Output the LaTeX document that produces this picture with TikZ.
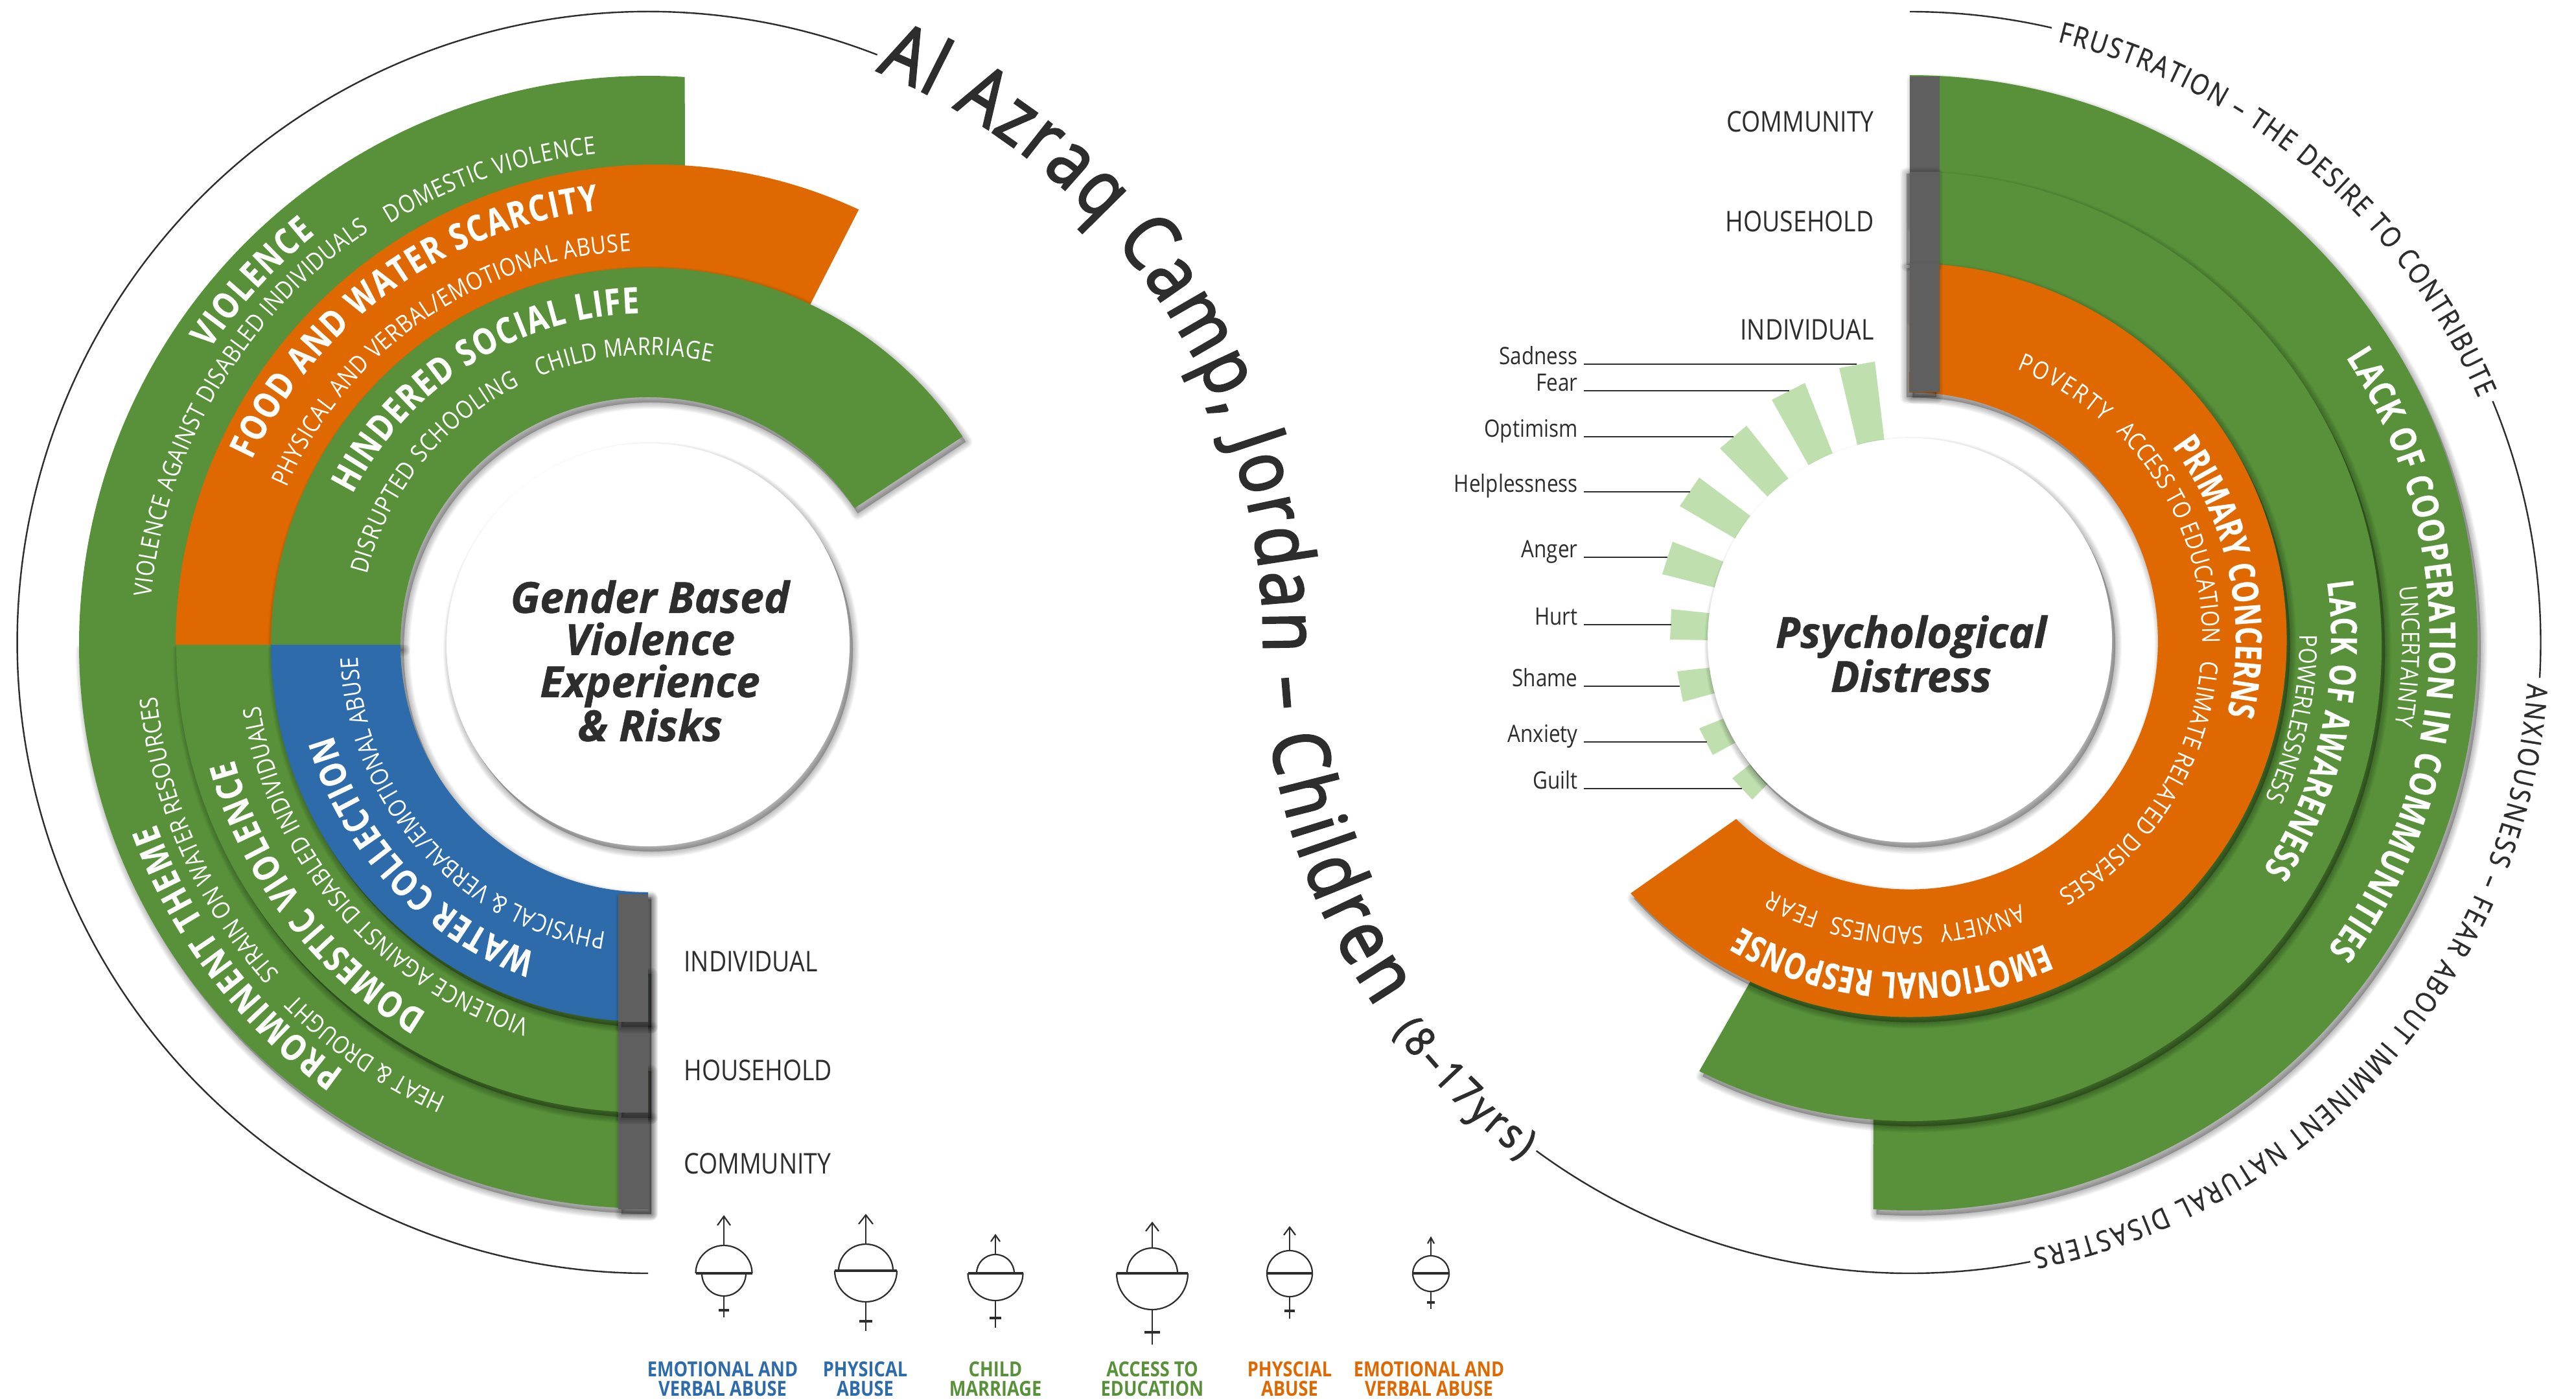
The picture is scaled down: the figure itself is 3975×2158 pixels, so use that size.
\documentclass[tikz,border=0pt]{standalone}
\usepackage{fontspec}
\usetikzlibrary{decorations.text}
\setmainfont[FakeStretch=0.85]{Open Sans}
\newfontfamily\narrowbold[FakeStretch=0.76,FakeBold=0.4]{Open Sans}
\newfontfamily\midbold[FakeStretch=0.82,FakeBold=0.4]{Open Sans}
\newfontfamily\hubfont[FakeBold=0.8]{Open Sans}
\newfontfamily\titlefont[FakeStretch=0.85,FakeBold=2.4]{Open Sans}
\newfontfamily\outerfont[FakeStretch=0.85,FakeBold=0.8]{Open Sans}
\definecolor{rgreen}{HTML}{58913A}
\definecolor{rorange}{HTML}{DF6900}
\definecolor{rblue}{HTML}{2E6BAB}
\definecolor{rgray}{HTML}{5F5F5F}
\definecolor{rlight}{HTML}{BFE0AE}
\definecolor{rink}{HTML}{2D2D2D}
\newcommand\fonts[2]{\fontsize{#1}{#2}\selectfont}
\def\fThin{\fonts{19}{22}\color{white}}
\def\fBold{\midbold\fonts{28}{32}\bfseries\color{white}}
\def\fBoldN{\narrowbold\fonts{28}{32}\bfseries\color{white}}
\def\fOuter{\outerfont\fonts{22}{26}\color{rink}}
\def\tmain{\titlefont\fonts{60}{70}\color{rink}}
\def\tsub{\titlefont\fonts{32}{36}\color{rink}}
\tikzset{
  shadowstroke/.style={fill=black,draw=black,fill opacity=.04,draw opacity=.04,line join=round},
  thinline/.style={draw=rink,line width=1.2pt},
  labeltext/.style={font=\fonts{22}{26},text=rink,inner sep=0pt},
  emotext/.style={font=\fonts{18.5}{22},text=rink,inner sep=0pt},
  centretitle/.style={font=\hubfont\fonts{33}{32.5}\bfseries\itshape,text=rink,align=center,inner sep=0pt},
  legendtext/.style={font=\fonts{16}{15}\bfseries,align=center,inner sep=0pt},
  glyph/.style={draw=rink,line width=1.1pt},
  glyphbar/.style={draw=rink,line width=2pt},
}
% annular sector; angles are ordinary (anticlockwise from east) angles
\newcommand\secpath[8]{({#1+#3*cos(-(#7))},{#2+#4*sin(-(#7))}) arc[start angle={-(#7)},end angle={-(#8)},x radius=#3,y radius=#4] -- ({#1+#5*cos(-(#8))},{#2+#6*sin(-(#8))}) arc[start angle={-(#8)},end angle={-(#7)},x radius=#5,y radius=#6] -- cycle}
\newcommand\softshadow[2][5,8]{\foreach \w in {1,2.5,4,5.5,7,8.5,10}{\path[shadowstroke,line width=\w pt,shift={(#1)}] #2;}}
\newcommand\band[9]{\softshadow{\secpath{#1}{#2}{#3}{#4}{#5}{#6}{#7}{#8}}\fill[#9] \secpath{#1}{#2}{#3}{#4}{#5}{#6}{#7}{#8};}
\newcommand\arctxt[7]{\path[decorate,decoration={text along path,text align={fit to path},text={|#6|#7}}] ({#1+#3*cos(-(#4))},{#2+#3*sin(-(#4))}) arc[start angle={-(#4)},end angle={-(#5)},radius=#3];}
\newcommand\circarc[5]{\draw[thinline] ({#1+#3*cos(-(#4))},{#2+#3*sin(-(#4))}) arc[start angle={-(#4)},end angle={-(#5)},radius=#3];}
\begin{document}
\begin{tikzpicture}[x=.5pt,y=-.5pt]
\useasboundingbox (0,0) rectangle (3975,2158);
\fill[white] (0,0) rectangle (3975,2158);

% ---------- outer thin circles
\circarc{1000}{991.5}{973.5}{68.7}{270}
\circarc{2947}{991.5}{973.5}{90}{77}
\circarc{2947}{991.5}{973.5}{22.5}{-3.2}
\circarc{2947}{991.5}{973.5}{-79}{-126.3}

% ---------- LEFT upper rings
\def\violencepath{(122,995) arc[start angle=180,end angle=273.7,radius=878] -- (1057,300) -- ({1000+650*cos(85)},{995-650*sin(85)}) arc[start angle=275,end angle=180,radius=650] -- cycle}
\fill[rgreen] \violencepath;
\def\orangepath{(271,995) arc[start angle=180,end angle=295,radius=741] -- (1240,490) -- ({1000+500*cos(65)},{995-500*sin(65)}) arc[start angle=295,end angle=180,radius=500] -- cycle}
\fill[rorange] \orangepath;
\band{1000}{995}{582}{582}{382}{382}{180}{33.5}{rgreen}

% ---------- LEFT lower rings (their shadows must not spill above the seam)
\begin{scope}
\clip (100,995) rectangle (1100,2000);
\band{1000}{995}{878}{870}{650}{650}{180}{270}{rgreen}
\band{1000}{995}{728}{722}{500}{500}{180}{270}{rgreen}
\band{1000}{995}{582}{582}{382}{382}{180}{270}{rblue}
\end{scope}
\def\barC{(954,1717) rectangle (1000,1866)}
\def\barB{(954,1577) rectangle (1000,1717)}
\def\barA{(954,1380) rectangle (1000,1577)}
\softshadow{\barC}\fill[rgray] \barC;
\softshadow{\barB}\fill[rgray] \barB;
\softshadow{\barA}\fill[rgray] \barA;

% ---------- RIGHT rings
\def\rOne{(2947,116) arc[start angle=-90,end angle=93.7,radius=876] -- (2891,1640) -- ({2947+650*cos(95)},{992+650*sin(95)}) arc[start angle=95,end angle=-90,radius=650] -- cycle}
\softshadow{\rOne}
\fill[rgreen] \rOne;
\def\rTwo{(2947,265) arc[start angle=-90,end angle=116.5,x radius=728,y radius=732.5] -- (2715,1490) -- ({2947+500*cos(115)},{988+500*sin(115)}) arc[start angle=115,end angle=-90,radius=500] -- cycle}
\softshadow{\rTwo}
\fill[rgreen] \rTwo;
\def\rThree{(2947,406.5) arc[start angle=-90,end angle=137.8,radius=581.5] -- (2679,1264) arc[start angle=134.2,end angle=-90,radius=383.5] -- cycle}
\softshadow{\rThree}
\fill[rorange] \rThree;

% ---------- emotion bars
\fill[rlight] (2838,568) -- (2893,558) -- (2909,690) -- (2868,695) -- cycle;
\fill[rlight] (2734,617) -- (2785,591) -- (2830,705) -- (2793,722) -- cycle;
\fill[rlight] (2654,692) -- (2695,657) -- (2765,745) -- (2733,772) -- cycle;
\fill[rlight] (2592,781) -- (2622,737) -- (2706,800) -- (2684,835) -- cycle;
\fill[rlight] (2565,886) -- (2581,836) -- (2665,869) -- (2651,908) -- cycle;
\fill[rlight] (2577,987) -- (2579,940) -- (2645,947) -- (2645,988) -- cycle;
\fill[rlight] (2597,1083) -- (2588,1036) -- (2650,1029) -- (2656,1067) -- cycle;
\fill[rlight] (2643,1165) -- (2622,1124) -- (2669,1105) -- (2687,1141) -- cycle;
\fill[rlight] (2704,1234) -- (2673,1201) -- (2710,1172) -- (2736,1201) -- cycle;

% right grey bars
\fill[rgray] (2947,118) rectangle (2993,265);
\def\barE{(2947,265) rectangle (2993,406)}
\def\barD{(2947,406) rectangle (2993,605)}
\softshadow[-5,3]{\barE}\fill[rgray] \barE;
\softshadow[-5,8]{\barD}\fill[rgray] \barD;

% ---------- white hubs
\def\hubL{(1000,995) circle[radius=311]}
\def\hubR{(2947,988) circle[radius=312]}
\softshadow{\hubL}\fill[white] \hubL;
\softshadow{\hubR}\fill[white] \hubR;
\node[centretitle] (hubtextL) at (1003,1020) {Gender Based\\Violence\\Experience\\\& Risks};
\node[centretitle] (hubtextR) at (2949,1009) {Psychological\\Distress};

% ---------- LEFT ring texts, top
\arctxt{1000}{995}{762}{121.5}{96}{\fThin}{DOMESTIC VIOLENCE}
\arctxt{1000}{995}{770}{174.5}{124}{\fThin}{VIOLENCE AGAINST DISABLED INDIVIDUALS}
\arctxt{1000}{995}{816}{146}{129}{\fBold}{VIOLENCE}
\arctxt{1000}{995}{675}{155}{96.5}{\fBold}{FOOD AND WATER SCARCITY}
\arctxt{1000}{995}{608}{156.5}{92.5}{\fThin}{PHYSICAL AND VERBAL/EMOTIONAL ABUSE}
\arctxt{1000}{995}{512}{153}{91.5}{\fBold}{HINDERED SOCIAL LIFE}
\arctxt{1000}{995}{447}{166}{116.3}{\fThin}{DISRUPTED  SCHOOLING}
\arctxt{1000}{995}{447}{112.2}{77.4}{\fThin}{CHILD MARRIAGE}
% LEFT ring texts, bottom
\arctxt{1000}{995}{448}{261.7}{182.5}{\fThin}{PHYSICAL {\&} VERBAL/EMOTIONAL ABUSE}
\arctxt{1000}{995}{506}{250}{196}{\fBold}{WATER COLLECTION}
\arctxt{1000}{995}{606}{252.5}{189}{\fThin}{VIOLENCE AGAINST DISABLED INDIVIDUALS}
\arctxt{1000}{995}{663}{239}{195.5}{\fBold}{DOMESTIC VIOLENCE}
\arctxt{1000}{995}{762}{221.8}{186}{\fThin}{STRAIN ON WATER RESOURCES}
\arctxt{1000}{995}{765}{246}{224.8}{\fThin}{HEAT {\&} DROUGHT}
\arctxt{1000}{995}{808}{234.5}{200}{\fBold}{PROMINENT THEME}

% ---------- RIGHT ring texts
\arctxt{2947}{988}{450}{68.5}{48.5}{\fThin}{POVERTY}
\arctxt{2947}{988}{452}{45.3}{-0.6}{\fThin}{ACCESS TO EDUCATION}
\arctxt{2947}{988}{450}{-4}{-59.5}{\fThin}{CLIMATE RELATED DISEASES}
\arctxt{2947}{988}{503}{36.5}{-12}{\fBoldN}{PRIMARY CONCERNS}
\arctxt{2947}{988}{513}{294}{240}{\fBoldN}{EMOTIONAL RESPONSE}
\arctxt{2947}{988}{442}{292.8}{275.9}{\fThin}{ANXIETY}
\arctxt{2947}{988}{442}{272.6}{254.4}{\fThin}{SADNESS}
\arctxt{2947}{988}{442}{251.8}{241.2}{\fThin}{FEAR}
\arctxt{2947}{988}{601}{0.8}{-23.9}{\fThin}{POWERLESSNESS}
\arctxt{2947}{988}{650}{8}{-33}{\fBoldN}{LACK OF AWARENESS}
\arctxt{2947}{988}{760}{6.2}{-9.8}{\fThin}{UNCERTAINTY}
\arctxt{2947}{988}{802}{33}{-36.5}{\fBold}{LACK OF COOPERATION IN COMMUNITIES}
\arctxt{2947}{991.5}{955}{76.2}{23.3}{\fOuter}{FRUSTRATION – THE DESIRE TO CONTRIBUTE}
\arctxt{2947}{991.5}{955}{-3.8}{-78.5}{\fOuter}{ANXIOUSNESS – FEAR ABOUT IMMINENT NATURAL DISASTERS}

% ---------- title on the S curve
\path[decorate,decoration={text along path,raise=-12pt,text align={fit to path},text={|\tmain|Al Azraq Camp, Jordan – Children ||{}|\tsub|(8–17yrs)}}]
  ({1000+973.5*cos(68.2)},{991.5-973.5*sin(68.2)}) arc[start angle=-68.2,end angle=0,radius=973.5] arc[start angle=180,end angle=126.9,radius=973.5];

% ---------- level labels
\node[labeltext,anchor=west] (lblInd) at (1055,1484) {INDIVIDUAL};
\node[labeltext,anchor=west] (lblHou) at (1055,1652) {HOUSEHOLD};
\node[labeltext,anchor=west] (lblCom) at (1055,1796) {COMMUNITY};
\node[labeltext,anchor=east] (lblComR) at (2892,188) {COMMUNITY};
\node[labeltext,anchor=east] (lblHouR) at (2892,342) {HOUSEHOLD};
\node[labeltext,anchor=east] (lblIndR) at (2892,509) {INDIVIDUAL};

% ---------- emotion labels and leaders
\foreach \t/\y/\e in {Sadness/562/2865,Fear/603/2761,Optimism/674/2675,Helplessness/759/2608,Anger/860/2573,Hurt/964/2579,Shame/1059/2592,Anxiety/1145/2634,Guilt/1217/2688}{
  \node[emotext,anchor=base east] (\t) at (2435,\y) {\t};
  \coordinate (\t end) at (\e,\y);
  \draw[draw=rink,line width=1pt] ([xshift=4.5pt]\t.base east) -- (\t end);
}

% ---------- gender glyphs
\foreach \x/\t/\u/\m/\b/\e/\k/\au/\al/\tw/\th/\kw in {
  1117/1877/1922/1965/2000/2033/2022/43.5/34/10/14/8,
  1336/1875/1920/1961/2009/2054/2039/42/48/11/14/10,
  1536/1906/1936/1965/2007/2049/2034/29/42.5/7/10/9,
  1778/1887/1926/1965/2021/2075/2056/39/55/10/13/12,
  1990/1894/1930/1965/2001/2035/2023/35/35/9/12/8,
  2208/1910/1938/1965/1993/2020/2010/28/28/5/9/6}{
  \pgfmathsetmacro\ru{\m-\u}
  \pgfmathsetmacro\rl{\b-\m}
  \pgfmathsetmacro\am{max(\au,\al)}
  \draw[glyph] (\x,\t) -- (\x,\u);
  \draw[glyph] (\x-\tw,\t+\th) -- (\x,\t) -- (\x+\tw,\t+\th);
  \draw[glyph] (\x-\au,\m) arc[start angle=180,end angle=360,x radius=\au,y radius=\ru];
  \draw[glyph] (\x-\al,\m) arc[start angle=180,end angle=0,x radius=\al,y radius=\rl];
  \draw[glyphbar] (\x-\am,\m) -- (\x+\am,\m);
  \draw[glyph] (\x,\b) -- (\x,\e);
  \draw[glyphbar] (\x-\kw,\k) -- (\x+\kw,\k);
}
\node[legendtext,text=rblue] (lg1) at (1115,2128) {EMOTIONAL AND\\VERBAL ABUSE};
\node[legendtext,text=rblue] (lg2) at (1335,2128) {PHYSICAL\\ABUSE};
\node[legendtext,text=rgreen] (lg3) at (1536,2128) {CHILD\\MARRIAGE};
\node[legendtext,text=rgreen] (lg4) at (1778,2128) {ACCESS TO\\EDUCATION};
\node[legendtext,text=rorange] (lg5) at (1990,2128) {PHYSCIAL\\ABUSE};
\node[legendtext,text=rorange] (lg6) at (2205,2128) {EMOTIONAL AND\\VERBAL ABUSE};
\end{tikzpicture}
\end{document}
